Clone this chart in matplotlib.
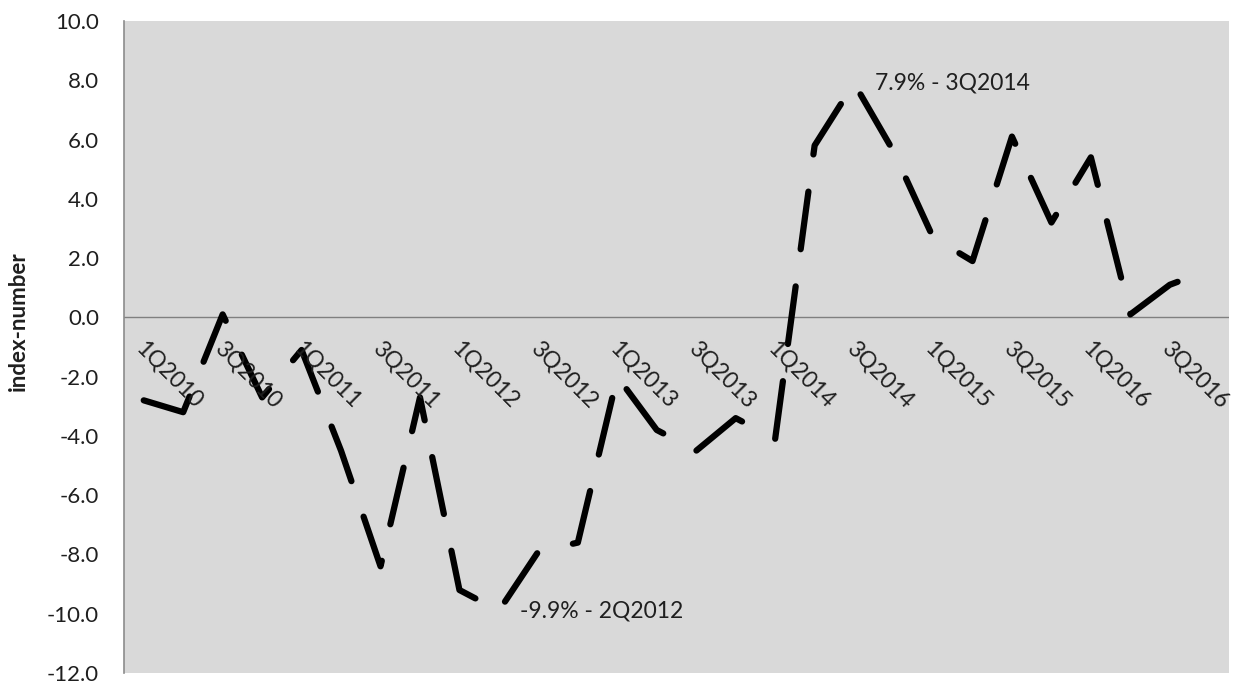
import matplotlib
matplotlib.use("Agg")
import matplotlib.pyplot as plt
import matplotlib.transforms as mtransforms

plt.rcParams['font.family'] = ['Lato', 'DejaVu Sans']

quarters = [f"{q}Q{y}" for y in range(2010, 2017) for q in (1, 2, 3, 4)]
values = [-2.8, -3.2, 0.1, -2.7, -1.1, -4.5, -8.4, -2.7, -9.2, -9.9,
          -7.9, -7.6, -2.0, -3.8, -4.5, -3.4, -4.1, 5.8, 7.9, 5.6,
          2.7, 1.9, 6.1, 3.2, 5.4, 0.1, 1.1, 1.6]
yticks = [-12, -10, -8, -6, -4, -2, 0, 2, 4, 6, 8, 10]
ann_min = (9, "-9.9% - 2Q2012")
ann_max = (18, "7.9% - 3Q2014")
ylabel = "index-number"

W, H = 1235, 685
fig = plt.figure(figsize=(W / 100, H / 100), dpi=100)
ax = fig.add_axes([124 / W, 1 - 673 / H, (1229 - 124) / W, (673 - 21) / H])
ax.set_facecolor('#D9D9D9')

x = list(range(len(values)))
ax.plot(x, values, color='black', lw=4.5, linestyle=(0, (9.3, 6.0)),
        dash_capstyle='round', solid_capstyle='round', zorder=3)

ax.axhline(0, color='#808080', lw=1.0, zorder=2)

ax.set_xlim(-0.5, len(values) - 0.5)
ax.set_ylim(-12, 10)
ax.set_yticks(yticks)
ax.set_yticklabels([f"{v:.1f}".replace('\u2212', '-') for v in yticks])
ax.tick_params(axis='y', length=0, pad=18, labelsize=16, labelcolor='#1F1F1F')
ax.set_xticks([])

for s in ['top', 'right', 'bottom']:
    ax.spines[s].set_visible(False)
ax.spines['left'].set_color('#8C8C8C')
ax.spines['left'].set_linewidth(1.2)

# category labels along zero line
offset = mtransforms.ScaledTranslation(3 / 100, -20 / 100, fig.dpi_scale_trans)
for i in range(0, len(quarters), 2):
    ax.text(i, 0, quarters[i], rotation=-45, rotation_mode='anchor',
            ha='left', va='top', fontsize=16.5, color='#1F1F1F',
            transform=ax.transData + offset, zorder=4)

for idx, txt in (ann_min, ann_max):
    ax.annotate(txt, (idx, values[idx]), xytext=(15, 0), textcoords='offset points',
                ha='left', va='center', fontsize=16.5, color='#1F1F1F', zorder=4)

ax.set_ylabel(ylabel, fontsize=16, fontweight='bold', color='#1F1F1F')
ax.yaxis.set_label_coords(-0.086, 0.54)

fig.savefig('out.png', dpi=100, facecolor='white')
